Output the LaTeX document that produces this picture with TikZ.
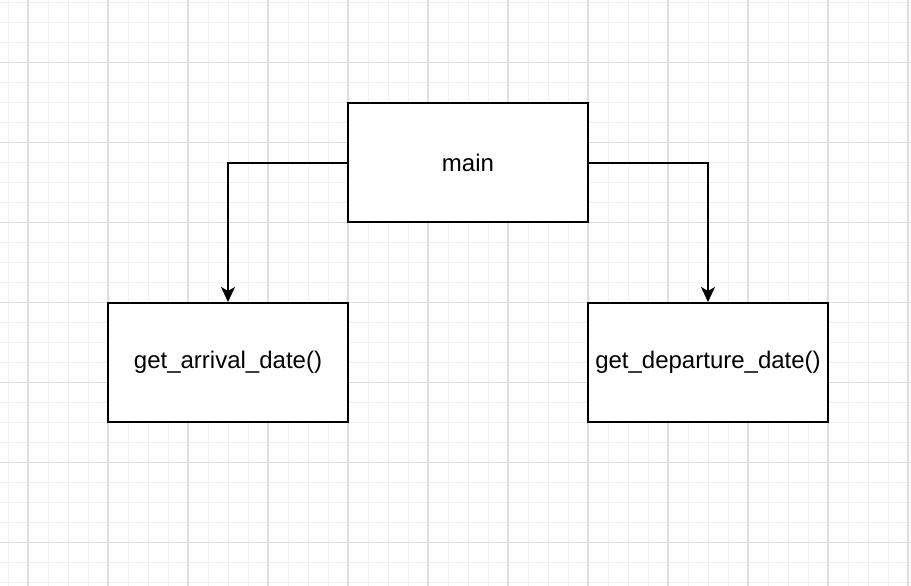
\documentclass[tikz,border=0pt]{standalone}
\usepackage{fontspec}
\setmainfont{Liberation Sans}
\usetikzlibrary{arrows.meta}
\begin{document}
\begin{tikzpicture}[x=1pt,y=-1pt,
  box/.style={draw=black,line width=2pt,fill=white,minimum width=240pt,minimum height=119pt,inner sep=0pt,font=\fontsize{24}{28}\selectfont},
  conn/.style={line width=2pt,-{Stealth[length=15pt,width=14pt,inset=4pt]}},
  minorgrid/.style={line width=1pt,draw={rgb,255:red,241;green,241;blue,241}},
  majorgrid/.style={line width=1.2pt,draw={rgb,255:red,222;green,222;blue,222}}]
\useasboundingbox (0,0) rectangle (911,586);
\fill[white] (0,0) rectangle (911,586);
\foreach \x in {8,28,...,908} {\draw[minorgrid] (\x,0) -- (\x,586);}
\foreach \y in {2.5,22.5,...,586} {\draw[minorgrid] (0,\y) -- (911,\y);}
\foreach \x in {28,108,...,908} {\draw[majorgrid] (\x,0) -- (\x,586);}
\foreach \y in {62.5,142.5,...,586} {\draw[majorgrid] (0,\y) -- (911,\y);}
\node[box] (main) at (468,162.5) {main};
\node[box] (arr) at (228,362.5) {get\_arrival\_date()};
\node[box] (dep) at (708,362.5) {get\_departure\_date()};
\draw[conn] (main.west) -| (arr.north);
\draw[conn] (main.east) -| (dep.north);
\end{tikzpicture}
\end{document}
